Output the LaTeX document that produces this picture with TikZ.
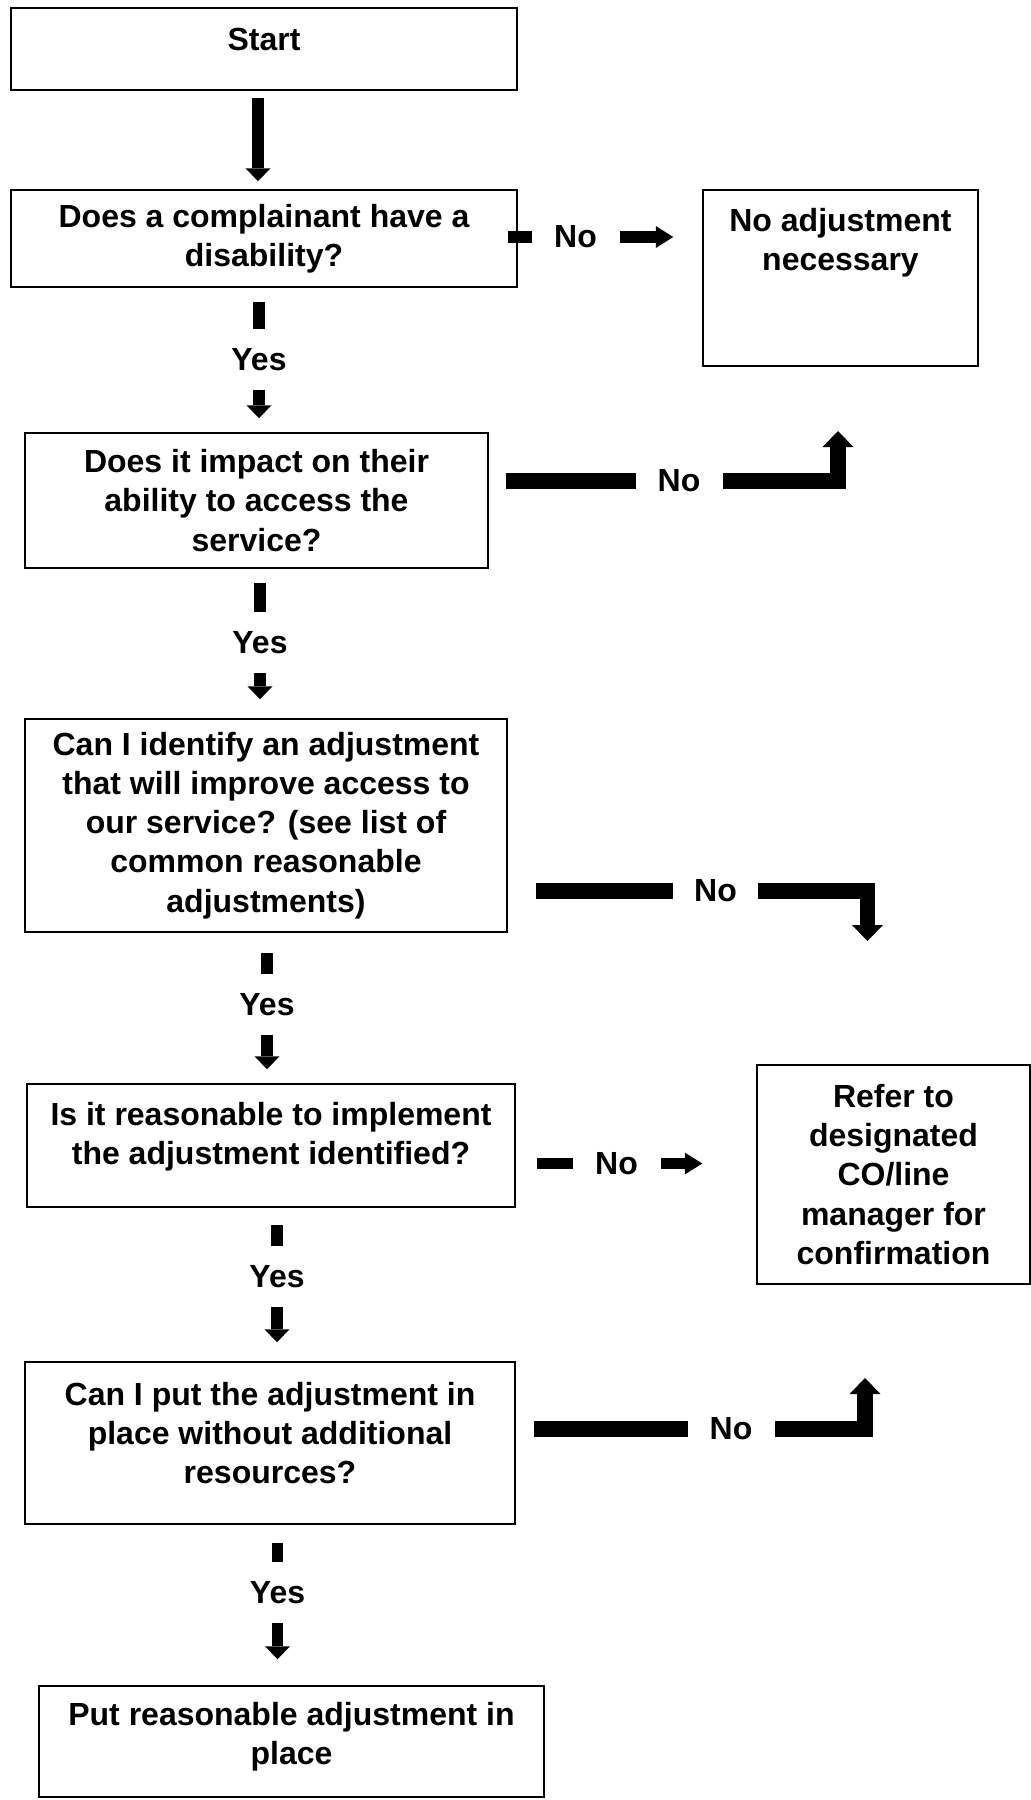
\documentclass[tikz,border=0pt]{standalone}
\usepackage{fontspec}
\setmainfont{Liberation Sans}
\usetikzlibrary{arrows.meta, positioning}

\begin{document}
\begin{tikzpicture}[x=0.5pt, y=-0.5pt,
    every node/.style={font=\fontsize{16}{19.6}\selectfont\bfseries},
    box/.style={draw, line width=0.75pt, align=center, inner sep=0pt},
    lbl/.style={inner sep=0pt},
    stub/.style={line width=5.75pt},
    down/.style={stub, -{Triangle[length=6.5pt, width=12.5pt, line width=0pt]}},
    side/.style={line width=5.75pt},
    sidearr/.style={side, -{Triangle[length=8.75pt, width=11pt, line width=0pt]}},
    bar/.style={line width=7.75pt},
    bent/.style={bar, -{Triangle[length=8pt, width=15.5pt, line width=0pt]}},
]
    \useasboundingbox (0,0) rectangle (1031,1800);

    % Main column
    \node[box, minimum width=253pt, minimum height=41pt, text depth=10pt]
        (start) at (264,49) {Start};
    \node[box, minimum width=253pt, minimum height=48.5pt]
        (q1) at (264,238.5) {Does a complainant have a\\disability?};
    \node[box, minimum width=231.5pt, minimum height=67.5pt]
        (q2) at (256.5,500.5) {Does it impact on their\\ability to access the\\service?};
    \node[box, minimum width=241pt, minimum height=106.5pt]
        (q3) at (266,825.5) {Can I identify an adjustment\\that will improve access to\\our service? (see list of\\common reasonable\\adjustments)};
    \node[box, minimum width=244pt, minimum height=61.5pt, text depth=12.4pt]
        (q4) at (271,1145.5) {Is it reasonable to implement\\the adjustment identified?};
    \node[box, minimum width=245pt, minimum height=81pt, text depth=10pt]
        (q5) at (270,1443) {Can I put the adjustment in\\place without additional\\resources?};
    \node[box, minimum width=252.5pt, minimum height=55.5pt, text depth=8.4pt]
        (fin) at (291.5,1741.5) {Put reasonable adjustment in\\place};

    % Outcome boxes
    \node[box, minimum width=137.5pt, minimum height=88pt, text depth=39pt]
        (na) at (840.5,278) {No adjustment\\necessary};
    \node[box, minimum width=136.5pt, minimum height=109.5pt]
        (ref) at (893.5,1174.5) {Refer to\\designated\\CO/line\\manager for\\confirmation};

    % Yes / No labels
    \node[lbl] (yes1) at (259,360) {Yes};
    \node[lbl] (yes2) at (260,643) {Yes};
    \node[lbl] (yes3) at (267,1005) {Yes};
    \node[lbl] (yes4) at (277,1277) {Yes};
    \node[lbl] (yes5) at (277.5,1593) {Yes};
    \node[lbl] (no1) at (575.5,237) {No};
    \node[lbl] (no2) at (679,481) {No};
    \node[lbl] (no3) at (715.5,891) {No};
    \node[lbl] (no4) at (616.5,1163.5) {No};
    \node[lbl] (no5) at (731,1429) {No};

    % Free arrow ends
    \coordinate (up2) at (838,431);
    \coordinate (dn3) at (867.5,941);
    \coordinate (up5) at (865,1378);

    % Start arrow
    \draw[down, line width=6pt, shorten <=3.5pt, shorten >=4pt]
        ([xshift=-3pt]start.south) -- ([xshift=-3pt]start.south |- q1.north);

    % Yes connectors
    \foreach \a/\y/\b/\s/\e in {q1/yes1/q2/7/7, q2/yes2/q3/7/9.5,
        q3/yes3/q4/10/7, q4/yes4/q5/8.5/9.5, q5/yes5/fin/9/13} {
        \draw[stub, shorten <=\s pt, shorten >=9.75pt] (\a.south -| \y) -- (\y.north);
        \draw[down, shorten <=9pt, shorten >=\e pt] (\y.south) -- (\b.north -| \y);
    }

    % No connectors
    \draw[side, shorten <=-5pt, shorten >=11pt] (q1.east |- no1) -- (no1.west);
    \draw[sidearr, shorten <=11.5pt, shorten >=14.5pt] (no1.east) -- (na.west |- no1);

    \draw[bar, shorten <=8.5pt, shorten >=10.8pt] (q2.east |- no2) -- (no2.west);
    \draw[bent, shorten <=11.3pt] (no2.east) -| (up2);

    \draw[bar, shorten <=14pt, shorten >=10.6pt] (q3.east |- no3) -- (no3.west);
    \draw[bent, shorten <=10.6pt] (no3.east) -| (dn3);

    \draw[side, shorten <=10.5pt, shorten >=11pt] (q4.east |- no4) -- (no4.west);
    \draw[sidearr, shorten <=11.5pt, shorten >=27pt] (no4.east) -- (ref.west |- no4);

    \draw[bar, shorten <=9pt, shorten >=10.8pt] (q5.east |- no5) -- (no5.west);
    \draw[bent, shorten <=11.3pt] (no5.east) -| (up5);
\end{tikzpicture}
\end{document}
